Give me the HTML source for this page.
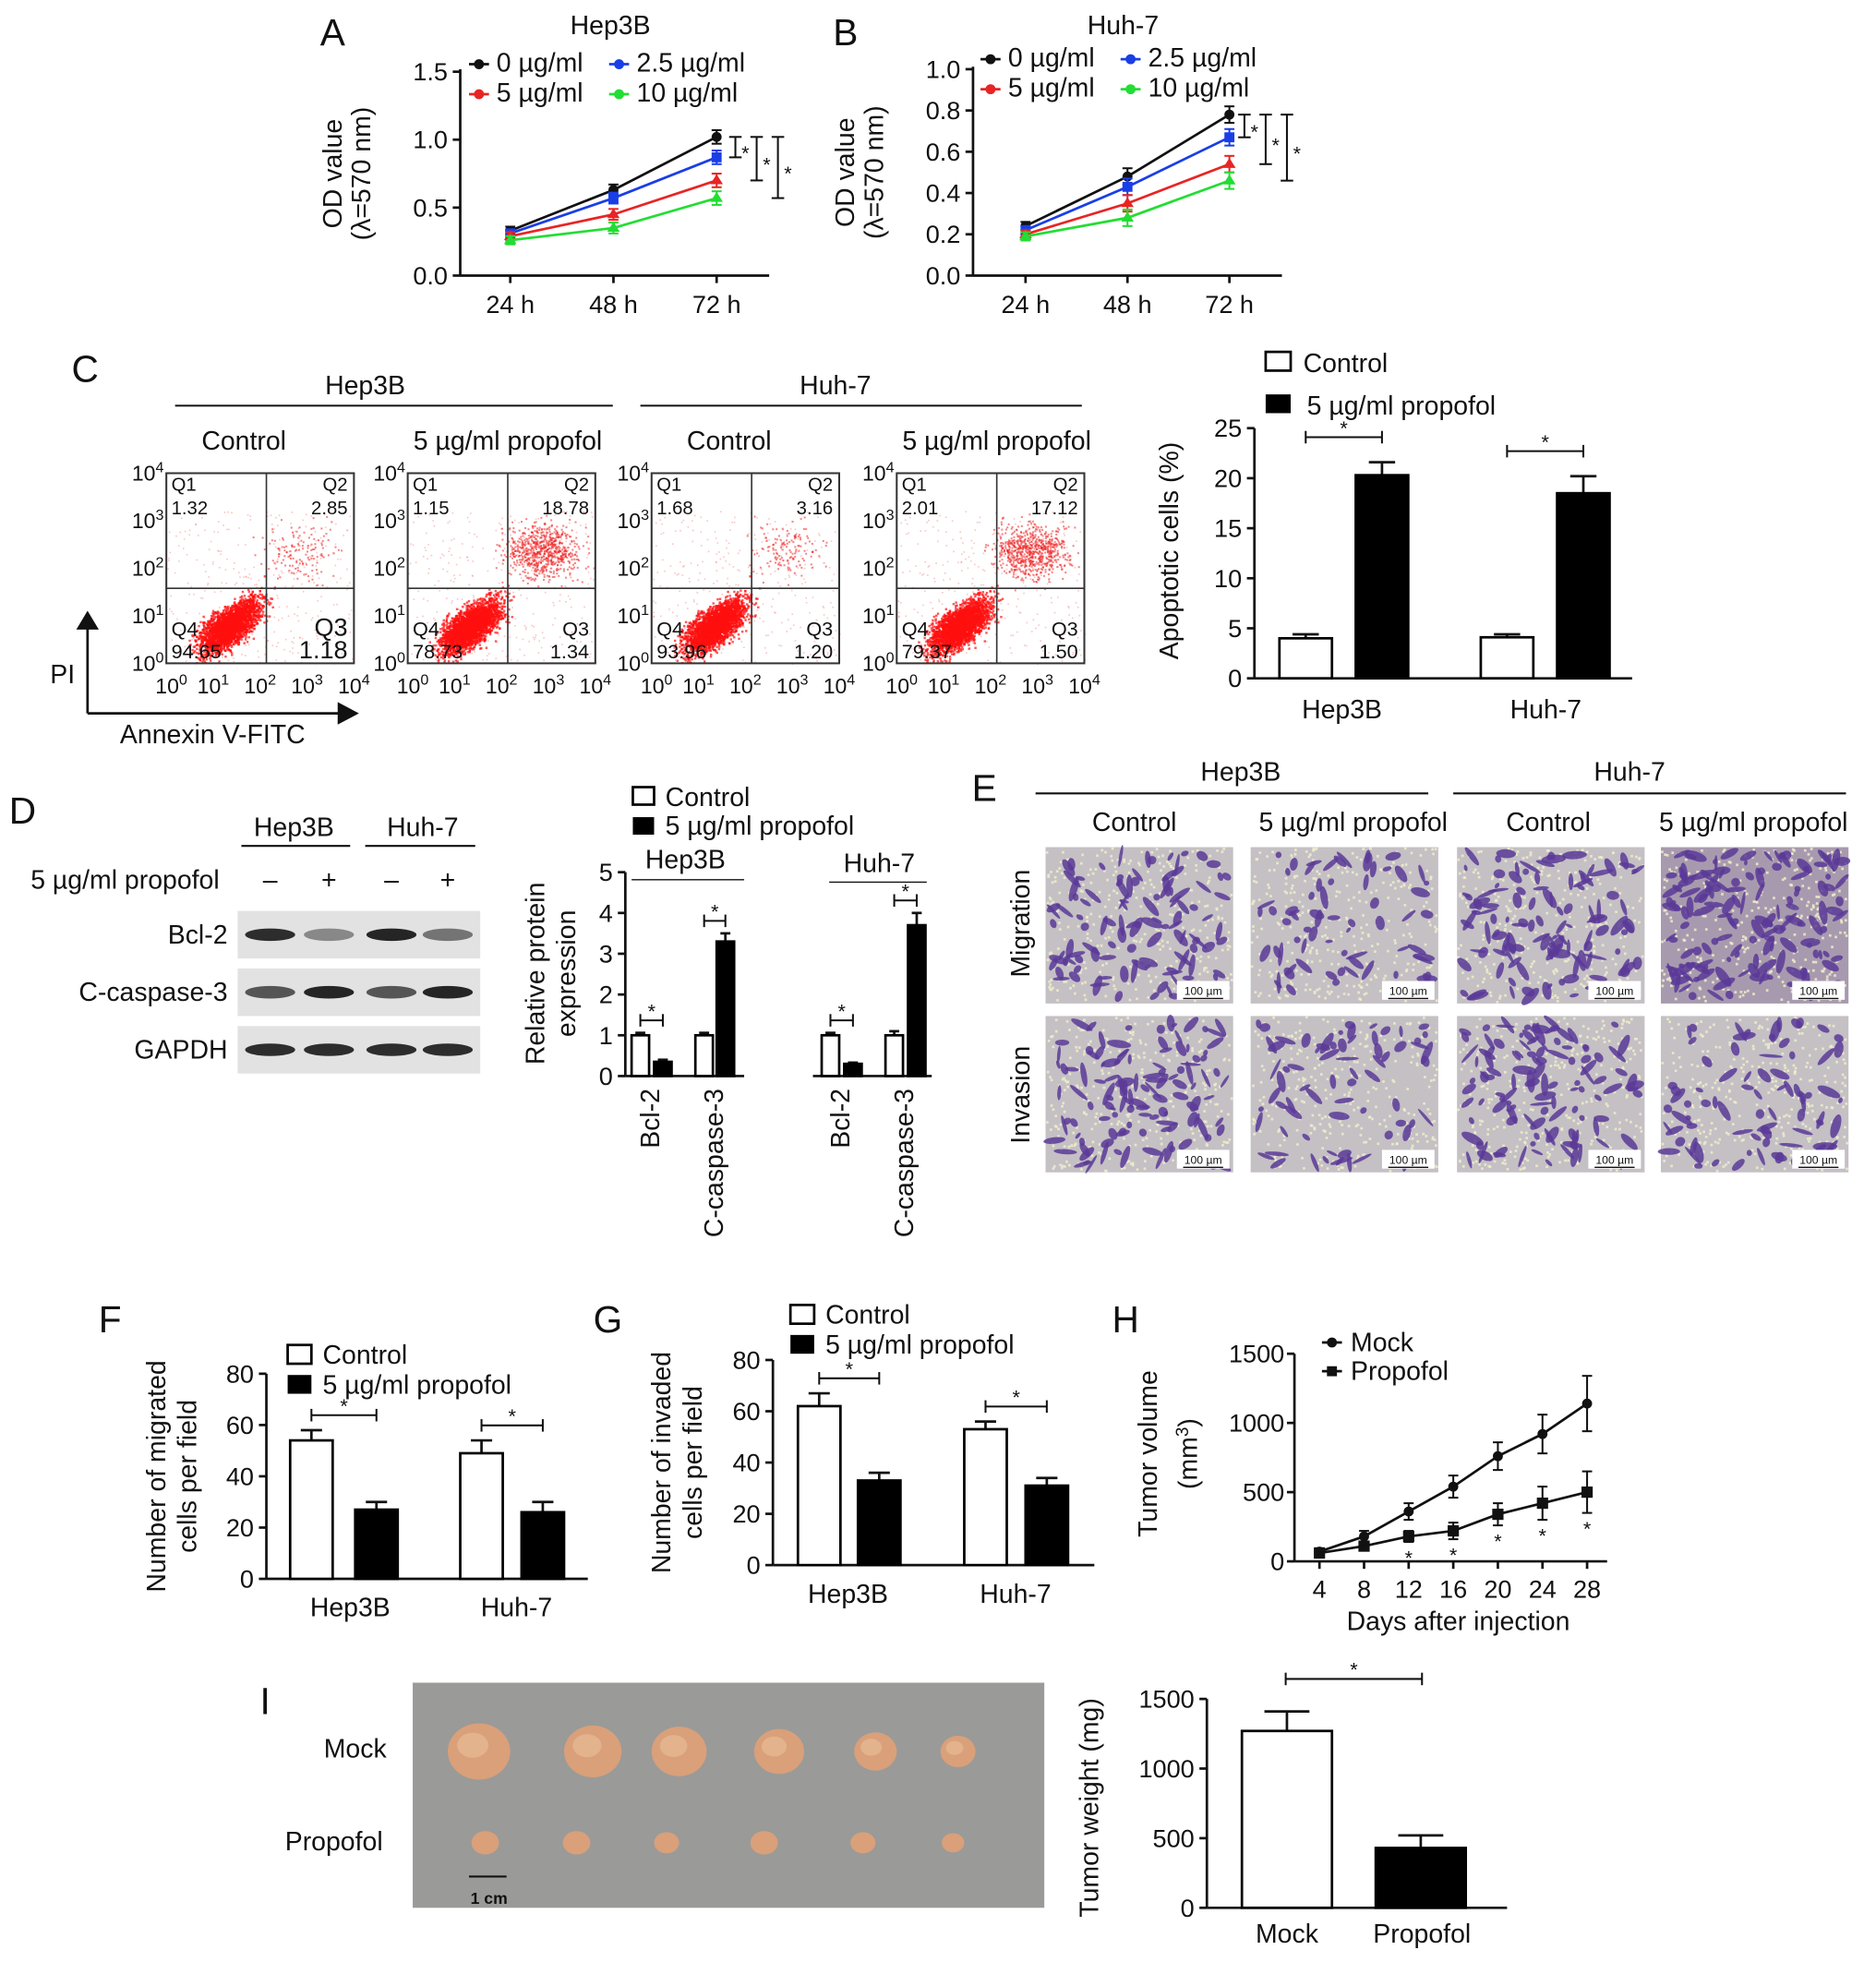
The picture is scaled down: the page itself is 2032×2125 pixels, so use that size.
<!DOCTYPE html>
<html><head><meta charset="utf-8">
<style>
html,body{margin:0;padding:0;background:#fff;}
svg{display:block;font-family:"Liberation Sans",Arial,sans-serif;}
</style></head>
<body>
<svg id="fig" xmlns="http://www.w3.org/2000/svg" width="2032" height="2125" viewBox="0 0 1500 1568">
<rect x="0" y="0" width="1500" height="1568" fill="#fff"/>
</svg>
<script>
// ---------- DATA ----------
const catsA = ["24 h","48 h","72 h"];
const seriesNamesA = ["0 µg/ml","2.5 µg/ml","5 µg/ml","10 µg/ml"];
const hepA0 = [0.33,0.63,1.02];
const hepA25 = [0.31,0.57,0.87];
const hepA5 = [0.29,0.45,0.70];
const hepA10 = [0.26,0.35,0.57];
const hepErr = [0.03,0.04,0.05];
const ticksA = ["0.0","0.5","1.0","1.5"];
const huhB0 = [0.24,0.48,0.78];
const huhB25 = [0.22,0.43,0.67];
const huhB5 = [0.20,0.35,0.54];
const huhB10 = [0.19,0.28,0.46];
const huhErr = [0.02,0.04,0.04];
const ticksB = ["0.0","0.2","0.4","0.6","0.8","1.0"];
const flowTitles = ["Control","5 µg/ml propofol","Control","5 µg/ml propofol"];
const flowQ1 = ["1.32","1.15","1.68","2.01"];
const flowQ2 = ["2.85","18.78","3.16","17.12"];
const flowQ3 = ["1.18","1.34","1.20","1.50"];
const flowQ4 = ["94.65","78.73","93.96","79.37"];
const apopCats = ["Hep3B","Huh-7"];
const apopCtrl = [4.0,4.1];
const apopCtrlErr = [0.4,0.3];
const apopProp = [20.3,18.5];
const apopPropErr = [1.3,1.7];
const ticksC = [0,5,10,15,20,25];
const protCats = ["Bcl-2","C-caspase-3","Bcl-2","C-caspase-3"];
const protCtrl = [1.0,1.0,1.0,1.0];
const protCtrlErr = [0.06,0.06,0.06,0.1];
const protProp = [0.35,3.3,0.3,3.7];
const protPropErr = [0.05,0.2,0.03,0.3];
const ticksD = [0,1,2,3,4,5];
const migCtrl = [54,49];
const migCtrlErr = [4,5];
const migProp = [27,26];
const migPropErr = [3,4];
const invCtrl = [62,53];
const invCtrlErr = [5,3];
const invProp = [33,31];
const invPropErr = [3,3];
const ticksFG = [0,20,40,60,80];
const daysH = [4,8,12,16,20,24,28];
const mockH = [70,180,360,540,760,920,1140];
const mockHErr = [25,40,60,80,100,140,200];
const propH = [60,110,180,220,340,420,500];
const propHErr = [20,30,40,60,80,120,150];
const ticksH = [0,500,1000,1500];
const weightCats = ["Mock","Propofol"];
const weightVals = [1270,430];
const weightErr = [140,90];
const ticksI = [0,500,1000,1500];

// ---------- HELPERS ----------
const NS="http://www.w3.org/2000/svg";
const svg=document.getElementById('fig');
function mk(tag,attrs,name,parent){
  const el=document.createElementNS(NS,tag);
  for(const k in attrs) el.setAttribute(k,attrs[k]);
  
  
  (parent||svg).appendChild(el);
  return el;
}
function txt(x,y,s,size,anchor,name,extra){
  const a={x:x,y:y,'font-size':size,'text-anchor':anchor||'middle',fill:'#111'};
  if(extra) for(const k in extra) a[k]=extra[k];
  const t=mk('text',a,name);
  t.textContent=s;
  return t;
}
function line(x1,y1,x2,y2,name,w,c){return mk('line',{x1:x1,y1:y1,x2:x2,y2:y2,stroke:c||'#111','stroke-width':w||2},name);}
function sup(x,y,base,exp,size,anchor,name){
  const t=mk('text',{x:x,y:y,'font-size':size,'text-anchor':anchor||'middle',fill:'#111'},name);
  const s1=document.createElementNS(NS,'tspan'); s1.textContent=base; t.appendChild(s1);
  const s2=document.createElementNS(NS,'tspan'); s2.setAttribute('dy',-size*0.4); s2.setAttribute('font-size',size*0.7); s2.textContent=exp; t.appendChild(s2);
  return t;
}
let seed=12345;
function rnd(){seed=(seed*1103515245+12345)%2147483648;return seed/2147483648;}
function gauss(){return (rnd()+rnd()+rnd()+rnd()-2)/0.58;}
function star(x,y,name){txt(x,y,'*',16,'middle',name);}
function bracket(x1,x2,y,name){line(x1,y,x2,y,name,1.5);line(x1,y-5,x1,y+5,name+'-l',1.5);line(x2,y-5,x2,y+5,name+'-r',1.5);star((x1+x2)/2,y-2,name+'-star');}
function vbracket(x,y1,y2,name){line(x,y1,x,y2,name,1.5);line(x-5,y1,x+5,y1,name+'-t',1.5);line(x-5,y2,x+5,y2,name+'-b',1.5);star(x+8,(y1+y2)/2+10,name+'-star');}

// ---------- PANEL A / B line charts ----------
function lineChart(o){
  const ys=v=>o.y0-(v/o.ymax)*(o.y0-o.yTop);
  const xs=i=>o.xFirst+i*o.step;
  line(o.ax,o.y0,o.ax,o.yTop-2,o.id+'-y-axis');
  line(o.ax,o.y0,o.axEnd,o.y0,o.id+'-x-axis');
  o.ticks.forEach((t,i)=>{const v=parseFloat(t);line(o.ax-6,ys(v),o.ax,ys(v),o.id+'-y-tick');txt(o.ax-10,ys(v)+7,t,20,'end',o.id+'-y-tick-label');});
  catsA.forEach((c,i)=>{line(xs(i),o.y0,xs(i),o.y0+6,o.id+'-x-tick');txt(xs(i),o.y0+30,c,20,'middle',o.id+'-x-tick-label');});
  const cols=['#111','#1a3ee6','#e82424','#22dd33'];
  o.series.forEach((s,si)=>{
    const pts=s.map((v,i)=>xs(i)+','+ys(v)).join(' ');
    mk('polyline',{points:pts,fill:'none',stroke:cols[si],'stroke-width':2},o.id+'-line-'+si);
    s.forEach((v,i)=>{
      line(xs(i),ys(v+o.err[i]),xs(i),ys(v-o.err[i]),o.id+'-errbar',1.5,cols[si]);
      line(xs(i)-4,ys(v+o.err[i]),xs(i)+4,ys(v+o.err[i]),o.id+'-errcap',1.5,cols[si]);
      line(xs(i)-4,ys(v-o.err[i]),xs(i)+4,ys(v-o.err[i]),o.id+'-errcap',1.5,cols[si]);
      if(si==1) mk('rect',{x:xs(i)-4,y:ys(v)-4,width:8,height:8,fill:cols[si]},o.id+'-point');
      else if(si==0) mk('circle',{cx:xs(i),cy:ys(v),r:4,fill:cols[si]},o.id+'-point');
      else mk('path',{d:`M${xs(i)-5},${ys(v)+3}L${xs(i)+5},${ys(v)+3}L${xs(i)},${ys(v)-5}Z`,fill:cols[si]},o.id+'-point');
    });
  });
  const lp=[[o.lx,o.ly],[o.lx+112,o.ly],[o.lx,o.ly+24],[o.lx+112,o.ly+24]];
  seriesNamesA.forEach((n,i)=>{
    line(lp[i][0]-8,lp[i][1]-6,lp[i][0]+8,lp[i][1]-6,o.id+'-legend-line',2,cols[i]);
    mk('circle',{cx:lp[i][0],cy:lp[i][1]-6,r:4,fill:cols[i]},o.id+'-legend-marker');
    txt(lp[i][0]+14,lp[i][1],n,21,'start',o.id+'-legend-label');
  });
  txt(o.tx,27,o.title,21,'middle',o.id+'-title');
  txt(o.letX,36,o.letter,30,'middle','panel-label-'+o.letter);
  const g=mk('text',{x:0,y:0,'font-size':21,'text-anchor':'middle',fill:'#111',transform:`translate(${o.ax-95},${(o.y0+o.yTop)/2}) rotate(-90)`},o.id+'-y-axis-title');
  g.textContent='OD value';
  const g2=mk('text',{x:0,y:0,'font-size':21,'text-anchor':'middle',fill:'#111',transform:`translate(${o.ax-72},${(o.y0+o.yTop)/2}) rotate(-90)`},o.id+'-y-axis-title-2');
  g2.textContent='(λ=570 nm)';
  const last=catsA.length-1;
  o.br.forEach((b,k)=>vbracket(o.bx+k*17,ys(o.series[0][last]),ys(o.series[k+1][last]),o.id+'-sig'));
}
lineChart({id:'a',ax:368,axEnd:615,y0:220,yTop:57,ymax:1.5,xFirst:408,step:82.5,ticks:ticksA,series:[hepA0,hepA25,hepA5,hepA10],err:hepErr,lx:383,ly:57,tx:488,title:'Hep3B',letter:'A',letX:266,bx:588,br:[0,1,2]});
lineChart({id:'b',ax:778,axEnd:1025,y0:220,yTop:55,ymax:1.0,xFirst:820,step:81.5,ticks:ticksB,series:[huhB0,huhB25,huhB5,huhB10],err:huhErr,lx:792,ly:53,tx:898,title:'Huh-7',letter:'B',letX:676,bx:995,br:[0,1,2]});

// ---------- PANEL C flow ----------
txt(68,305,'C',30,'middle','panel-label-C');
txt(292,315,'Hep3B',21,'middle','c-hep3b-header');line(140,324,490,324,'c-hep3b-line',1.5);
txt(668,315,'Huh-7',21,'middle','c-huh7-header');line(512,324,865,324,'c-huh7-line',1.5);
const flowX=[133,326,521,717];
flowTitles.forEach((t,k)=>{
  const bx=flowX[k],by=378,w=150,h=152,qx=bx+80,qy=by+92;
  txt(bx+(k%2?80:62),359,t,21,'middle','c-flow-title');
  const big=flowQ2[k].length>4;
  const g=mk('g',{},'c-flow-scatter-'+k);
  for(let i=0;i<300;i++){const x=bx+rnd()*w;const y=by+30+rnd()*(h-30);
    mk('rect',{x:x,y:y,width:1.2,height:1.2,fill:'#f07070','fill-opacity':0.4},'dot',g);}
  const n2=big?700:140;
  for(let i=0;i<n2;i++){const x=bx+108+gauss()*15;const y=by+62+gauss()*11;
    if(x>bx+1&&x<bx+w-1&&y>by+1&&y<by+h-1) mk('rect',{x:x,y:y,width:1.5,height:1.5,fill:'#ee2020','fill-opacity':0.55},'dot',g);}
  for(let i=0;i<2400;i++){const u=gauss(),v=gauss();const x=bx+50+u*12;const y=by+122+v*8-u*7;
    if(x>bx+1&&x<bx+w-1&&y>by+1&&y<by+h-1) mk('rect',{x:x,y:y,width:1.8,height:1.8,fill:'#ff0f0f','fill-opacity':0.7},'dot',g);}
  mk('rect',{x:bx,y:by,width:w,height:h,fill:'none',stroke:'#333','stroke-width':1.5},'c-flow-box');
  line(qx,by,qx,by+h,'c-quadrant-v',1.2,'#333');line(bx,qy,bx+w,qy,'c-quadrant-h',1.2,'#333');
  txt(bx+4,by+14,'Q1',15,'start','c-q1-label');txt(bx+4,by+33,flowQ1[k],15,'start','c-q1-value');
  txt(bx+w-5,by+14,'Q2',15,'end','c-q2-label');txt(bx+w-5,by+33,flowQ2[k],15,'end','c-q2-value');
  const q3s=k==0?20:16;
  txt(bx+w-5,by+h-22,'Q3',q3s,'end','c-q3-label');txt(bx+w-5,by+h-4,flowQ3[k],q3s,'end','c-q3-value');
  txt(bx+4,by+h-22,'Q4',16,'start','c-q4-label');txt(bx+4,by+h-4,flowQ4[k],16,'start','c-q4-value');
  for(let e=0;e<=4;e++){
    sup(bx-2,by+h-e*(h/4)+6,'10',String(e),17,'end','c-y-tick-label');
    sup(bx+e*(w/4)+(e==0?4:0),by+h+24,'10',String(e),17,'middle','c-x-tick-label');
  }
});
line(70,570,70,500,'pi-axis-arrow',2);mk('path',{d:'M61,503L79,503L70,488Z',fill:'#111'},'pi-arrowhead');
line(70,570,272,570,'annexin-axis-arrow',2);mk('path',{d:'M270,561L270,579L287,570Z',fill:'#111'},'annexin-arrowhead');
txt(50,546,'PI',21,'middle','pi-label');txt(170,594,'Annexin V-FITC',21,'middle','annexin-label');

// ---------- generic bar chart ----------
function barChart(o){
  const ys=v=>o.y0-(v/o.ymax)*(o.y0-o.yTop);
  line(o.ax,o.y0,o.ax,o.yTop,o.id+'-y-axis');
  (o.xSegs||[[o.ax,o.axEnd]]).forEach(s=>line(s[0],o.y0,s[1],o.y0,o.id+'-x-axis'));
  o.ticks.forEach(t=>{line(o.ax-6,ys(t),o.ax,ys(t),o.id+'-y-tick');txt(o.ax-10,ys(t)+7,String(t),o.fs||20,'end',o.id+'-y-tick-label');});
  o.groups.forEach((g,i)=>{
    g.vals.forEach((v,j)=>{
      const x=g.x[j];const e=g.err[j];const cw=Math.max(4,o.bw/4);
      line(x+o.bw/2,ys(v),x+o.bw/2,ys(v+e),o.id+'-errbar',2);
      line(x+o.bw/2-cw,ys(v+e),x+o.bw/2+cw,ys(v+e),o.id+'-errcap',2);
      mk('rect',{x:x,y:ys(v),width:o.bw,height:o.y0-ys(v),fill:j==0?'#fff':'#000',stroke:'#000','stroke-width':2},o.id+'-bar-'+i+'-'+j);
    });
    if(o.sig){const top=Math.max(g.vals[0]+g.err[0],g.vals[1]+g.err[1]);bracket(g.x[0]+o.bw/2,g.x[1]+o.bw/2,ys(top)-o.sigOff,o.id+'-sig');}
  });
  return ys;
}

// C bar chart
mk('rect',{x:1012,y:281,width:20,height:15,fill:'#fff',stroke:'#000','stroke-width':2},'c-legend-control-swatch');
txt(1042,297,'Control',21,'start','c-legend-control');
mk('rect',{x:1012,y:315,width:20,height:15,fill:'#000'},'c-legend-propofol-swatch');
txt(1045,331,'5 µg/ml propofol',21,'start','c-legend-propofol');
barChart({id:'c',ax:1003,axEnd:1305,y0:542,yTop:342,ymax:25,ticks:ticksC,bw:42,sig:true,sigOff:20,
  groups:[{x:[1023,1084],vals:[apopCtrl[0],apopProp[0]],err:[apopCtrlErr[0],apopPropErr[0]]},{x:[1184,1245],vals:[apopCtrl[1],apopProp[1]],err:[apopCtrlErr[1],apopPropErr[1]]}]});
apopCats.forEach((c,i)=>txt([1073,1236][i],574,c,21,'middle','c-x-label'));
mk('text',{x:0,y:0,'font-size':21,'text-anchor':'middle',fill:'#111',transform:'translate(942,440) rotate(-90)'},'c-y-axis-title').textContent='Apoptotic cells (%)';

// ---------- PANEL D western ----------
txt(18,658,'D',30,'middle','panel-label-D');
txt(235,668,'Hep3B',21,'middle','d-hep3b-header');line(193,676,280,676,'d-hep3b-line',1.5);
txt(338,668,'Huh-7',21,'middle','d-huh7-header');line(292,676,380,676,'d-huh7-line',1.5);
txt(100,710,'5 µg/ml propofol',21,'middle','d-treatment-label');
['–','+','–','+'].forEach((s,i)=>txt([216,263,313,358][i],710,s,21,'middle','d-sign'));
const blotRows=['Bcl-2','C-caspase-3','GAPDH'];
const blotInt=[[0.9,0.45,0.95,0.55],[0.7,0.95,0.7,0.95],[0.9,0.9,0.9,0.9]];
blotRows.forEach((r,k)=>{
  const y=728+k*46;
  mk('rect',{x:190,y:y,width:194,height:38,fill:'#e2e2e2'},'d-blot-'+r);
  txt(182,y+26,r,21,'end','d-blot-label');
  [216,263,313,358].forEach((x,i)=>mk('ellipse',{cx:x,cy:y+19,rx:20,ry:5,fill:'#1a1a1a','fill-opacity':blotInt[k][i]},'d-band'));
});
mk('rect',{x:506,y:629,width:17,height:14,fill:'#fff',stroke:'#000','stroke-width':2},'d-legend-control-swatch');
txt(532,644,'Control',21,'start','d-legend-control');
mk('rect',{x:506,y:653,width:17,height:14,fill:'#000'},'d-legend-propofol-swatch');
txt(532,667,'5 µg/ml propofol',21,'start','d-legend-propofol');
txt(548,694,'Hep3B',21,'middle','d-hep3b-sub');line(505,703,595,703,'d-hep3b-subline',1);
txt(703,697,'Huh-7',21,'middle','d-huh7-sub');line(663,705,741,705,'d-huh7-subline',1);
const protX=[[505,523],[556,573],[657,675],[708,726]];
barChart({id:'d',ax:500,y0:860,yTop:697,ymax:5,ticks:ticksD,bw:14,xSegs:[[500,595],[650,745]],sig:true,sigOff:10,
  groups:protCats.map((c,i)=>({x:protX[i],vals:[protCtrl[i],protProp[i]],err:[protCtrlErr[i],protPropErr[i]]}))});
protCats.forEach((c,i)=>mk('text',{x:0,y:0,'font-size':21,'text-anchor':'end',fill:'#111',transform:`translate(${protX[i][0]+22},870) rotate(-90)`},'d-x-label').textContent=c);
mk('text',{x:0,y:0,'font-size':21,'text-anchor':'middle',fill:'#111',transform:'translate(435,778) rotate(-90)'},'d-y-axis-title').textContent='Relative protein';
mk('text',{x:0,y:0,'font-size':21,'text-anchor':'middle',fill:'#111',transform:'translate(460,778) rotate(-90)'},'d-y-axis-title-2').textContent='expression';

// ---------- PANEL E images ----------
txt(787,640,'E',30,'middle','panel-label-E');
txt(992,624,'Hep3B',21,'middle','e-hep3b-header');line(828,634,1142,634,'e-hep3b-line',1.5);
txt(1303,624,'Huh-7',21,'middle','e-huh7-header');line(1162,634,1476,634,'e-huh7-line',1.5);
['Control','5 µg/ml propofol','Control','5 µg/ml propofol'].forEach((t,i)=>txt([907,1082,1238,1402][i],664,t,21,'middle','e-col-title'));
mk('text',{x:0,y:0,'font-size':21,'text-anchor':'middle',fill:'#111',transform:'translate(823,738) rotate(-90)'},'e-row-migration').textContent='Migration';
mk('text',{x:0,y:0,'font-size':21,'text-anchor':'middle',fill:'#111',transform:'translate(823,875) rotate(-90)'},'e-row-invasion').textContent='Invasion';
const ex=[836,1000,1165,1328],ey=[677,812],ew=150,eh=125;
const edens=[[110,70,120,150],[120,70,120,80]];
ey.forEach((y,r)=>ex.forEach((x,c)=>{
  const g=mk('g',{},'e-image-'+r+'-'+c);
  mk('rect',{x:x,y:y,width:ew,height:eh,fill:c==3&&r==0?'#a89aae':'#c4c0c4'},'e-image-bg',g);
  for(let i=0;i<350;i++) mk('rect',{x:x+rnd()*(ew-2),y:y+rnd()*(eh-2),width:2,height:2,fill:'#eeeccc','fill-opacity':0.85},'e-pore',g);
  for(let i=0;i<edens[r][c];i++){const cx=x+5+rnd()*(ew-10),cy=y+5+rnd()*(eh-10);
    mk('ellipse',{cx:cx,cy:cy,rx:2+rnd()*8,ry:1.2+rnd()*2.5,transform:`rotate(${rnd()*180} ${cx} ${cy})`,fill:'#5b3a98','fill-opacity':0.85},'e-cell',g);}
  mk('rect',{x:x+ew-45,y:y+eh-18,width:42,height:15,fill:'#fff'},'e-scalebar-bg',g);
  txt(x+ew-24,y+eh-7,'100 µm',9,'middle','e-scalebar-label');
  line(x+ew-40,y+eh-4,x+ew-8,y+eh-4,'e-scalebar',1);
}));

// ---------- PANEL F / G ----------
function fgChart(id,letter,lx,ax,y0,yTop,ctrl,ce,prop,pe,xs,legX,legY,t1,t2,titleX,labX){
  txt(lx,1065,letter,30,'middle','panel-label-'+letter);
  mk('rect',{x:legX,y:legY-15,width:19,height:15,fill:'#fff',stroke:'#000','stroke-width':2},id+'-legend-control-swatch');
  txt(legX+28,legY,'Control',21,'start',id+'-legend-control');
  mk('rect',{x:legX,y:legY+9,width:19,height:15,fill:'#000'},id+'-legend-propofol-swatch');
  txt(legX+28,legY+24,'5 µg/ml propofol',21,'start',id+'-legend-propofol');
  barChart({id:id,ax:ax,axEnd:ax+257,y0:y0,yTop:yTop,ymax:80,ticks:ticksFG,bw:34,sig:true,sigOff:12,
    groups:[{x:xs[0],vals:[ctrl[0],prop[0]],err:[ce[0],pe[0]]},{x:xs[1],vals:[ctrl[1],prop[1]],err:[ce[1],pe[1]]}]});
  apopCats.forEach((c,i)=>txt(labX[i],y0+30,c,21,'middle',id+'-x-label'));
  mk('text',{x:0,y:0,'font-size':21,'text-anchor':'middle',fill:'#111',transform:`translate(${titleX},${(y0+yTop)/2}) rotate(-90)`},id+'-y-axis-title').textContent=t1;
  mk('text',{x:0,y:0,'font-size':21,'text-anchor':'middle',fill:'#111',transform:`translate(${titleX+25},${(y0+yTop)/2}) rotate(-90)`},id+'-y-axis-title-2').textContent=t2;
}
fgChart('f','F',88,213,1262,1098,migCtrl,migCtrlErr,migProp,migPropErr,[[232,284],[368,417]],230,1090,'Number of migrated','cells per field',132,[280,413]);
fgChart('g','G',486,618,1251,1087,invCtrl,invCtrlErr,invProp,invPropErr,[[638,686],[771,820]],632,1058,'Number of invaded','cells per field',536,[678,812]);

// ---------- PANEL H ----------
txt(900,1065,'H',30,'middle','panel-label-H');
(function(){
  const ax=1035,y0=1248,yTop=1082,ymax=1500;
  const ys=v=>y0-(v/ymax)*(y0-yTop);
  const xs=d=>1055+(d-4)*(1269-1055)/24;
  line(ax,y0,ax,yTop,'h-y-axis');line(ax,y0,1285,y0,'h-x-axis');
  ticksH.forEach(t=>{line(ax-6,ys(t),ax,ys(t),'h-y-tick');txt(ax-8,ys(t)+7,String(t),20,'end','h-y-tick-label');});
  daysH.forEach(d=>{line(xs(d),y0,xs(d),y0+6,'h-x-tick');txt(xs(d),y0+29,String(d),20,'middle','h-x-tick-label');});
  [[mockH,mockHErr,'mock'],[propH,propHErr,'propofol']].forEach(([s,e,n])=>{
    mk('polyline',{points:s.map((v,i)=>xs(daysH[i])+','+ys(v)).join(' '),fill:'none',stroke:'#111','stroke-width':2},'h-line-'+n);
    s.forEach((v,i)=>{const x=xs(daysH[i]);
      line(x,ys(v+e[i]),x,ys(v-e[i]),'h-errbar',1.5);line(x-4,ys(v+e[i]),x+4,ys(v+e[i]),'h-errcap',1.5);line(x-4,ys(v-e[i]),x+4,ys(v-e[i]),'h-errcap',1.5);
      if(n=='mock') mk('circle',{cx:x,cy:ys(v),r:4,fill:'#111'},'h-point-mock');
      else mk('rect',{x:x-4.5,y:ys(v)-4.5,width:9,height:9,fill:'#111'},'h-point-propofol');
      if(n=='propofol'&&i>=2) star(x,ys(v-e[i])+18,'h-sig');
    });
  });
  line(1057,1073,1073,1073,'h-legend-mock-line',2);mk('circle',{cx:1065,cy:1073,r:4,fill:'#111'},'h-legend-mock-marker');
  txt(1080,1080,'Mock',21,'start','h-legend-mock');
  line(1057,1096,1073,1096,'h-legend-prop-line',2);mk('rect',{x:1061,y:1092,width:8,height:8,fill:'#111'},'h-legend-propofol-marker');
  txt(1080,1103,'Propofol',21,'start','h-legend-propofol');
  txt(1166,1303,'Days after injection',21,'middle','h-x-axis-title');
  mk('text',{x:0,y:0,'font-size':21,'text-anchor':'middle',fill:'#111',transform:'translate(925,1162) rotate(-90)'},'h-y-axis-title').textContent='Tumor volume';
  const t=mk('text',{x:0,y:0,'font-size':21,'text-anchor':'middle',fill:'#111',transform:'translate(957,1162) rotate(-90)'},'h-y-axis-title-2');
  t.innerHTML='(mm<tspan dy="-7" font-size="14">3</tspan><tspan dy="7">)</tspan>';
})();

// ---------- PANEL I ----------
txt(212,1370,'I',30,'middle','panel-label-I');
mk('rect',{x:330,y:1345,width:505,height:180,fill:'#9a9a98'},'i-tumor-photo');
txt(284,1405,'Mock',21,'middle','i-row-mock');txt(267,1479,'Propofol',21,'middle','i-row-propofol');
[[383,25],[474,23],[543,22],[623,20],[700,17],[766,14]].forEach(p=>{mk('ellipse',{cx:p[0],cy:1400,rx:p[1],ry:p[1]*0.9,fill:'#d9a07a'},'i-tumor-mock');mk('ellipse',{cx:p[0]-p[1]*0.2,cy:1400-p[1]*0.2,rx:p[1]*0.5,ry:p[1]*0.4,fill:'#e8c09a','fill-opacity':0.6},'i-tumor-highlight');});
[[388,11],[461,11],[533,10],[611,11],[690,10],[762,9]].forEach(p=>mk('ellipse',{cx:p[0],cy:1473,rx:p[1],ry:p[1]*0.85,fill:'#d9a07a'},'i-tumor-propofol'));
line(375,1500,405,1500,'i-scalebar',1.5);txt(391,1522,'1 cm',13,'middle','i-scalebar-label',{'font-weight':'bold'});
(function(){
  const ys=barChart({id:'i',ax:965,axEnd:1205,y0:1525,yTop:1358,ymax:1500,ticks:ticksI,bw:72,sig:false,
    groups:[{x:[993,1100],vals:weightVals,err:weightErr}]});
  bracket(1028,1137,ys(weightVals[0]+weightErr[0])-26,'i-sig');
  weightCats.forEach((c,i)=>txt([1029,1137][i],1553,c,21,'middle','i-x-label'));
  mk('text',{x:0,y:0,'font-size':21,'text-anchor':'middle',fill:'#111',transform:'translate(878,1445) rotate(-90)'},'i-y-axis-title').textContent='Tumor weight (mg)';
})();
</script>
</body></html>
